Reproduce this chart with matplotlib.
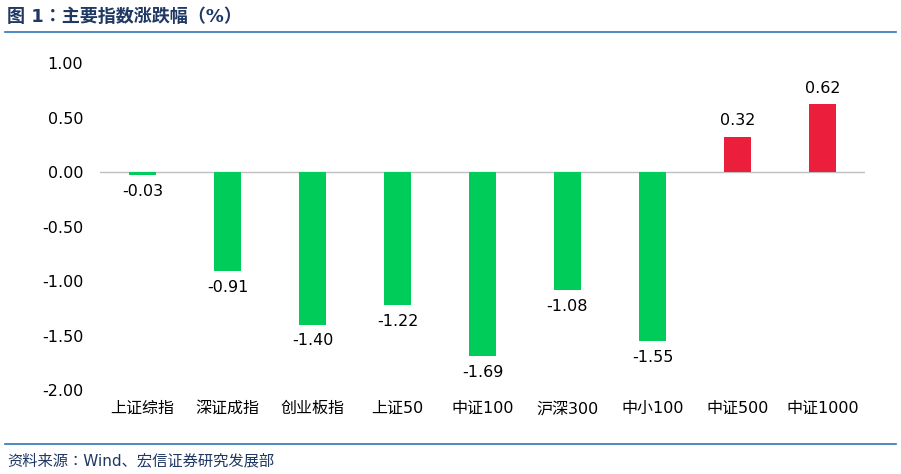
import matplotlib.pyplot as plt
from matplotlib.lines import Line2D

plt.rcParams['font.family'] = ['DejaVu Sans', 'Noto Sans CJK SC', 'Noto Sans CJK JP',
                               'Noto Sans CJK TC', 'Noto Sans CJK KR']
plt.rcParams['axes.unicode_minus'] = False

names = ['上证综指', '深证成指', '创业板指', '上证50', '中证100', '沪深300', '中小100', '中证500', '中证1000']
changes = [-0.03, -0.91, -1.40, -1.22, -1.69, -1.08, -1.55, 0.32, 0.62]

green = '#00CC5A'
red = '#EB1E3C'
colors = [red if v > 0 else green for v in changes]

fig = plt.figure(figsize=(9.01, 4.74), dpi=100)
ax = fig.add_axes([0.111, 0.177, 0.849, 0.690])

x = range(len(names))
ax.bar(x, changes, width=0.32, color=colors, zorder=2)
for i, v in enumerate(changes):
    if v > 0:
        ax.text(i, v + 0.08, f'{v:.2f}', ha='center', va='bottom', fontsize=11.5)
    else:
        ax.text(i, v - 0.08, f'{v:.2f}', ha='center', va='top', fontsize=11.5)

ax.set_xlim(-0.5, len(names) - 0.5)
ax.set_ylim(-2.0, 1.0)
ticks = [1.0, 0.5, 0.0, -0.5, -1.0, -1.5, -2.0]
ax.set_yticks(ticks)
ax.set_yticklabels([f'{t:.2f}' for t in ticks], fontsize=11.5)
ax.set_xticks(list(x))
ax.set_xticklabels(names, fontsize=11.5)
ax.tick_params(length=0, pad=12)
ax.tick_params(axis='x', pad=8)
for s in ax.spines.values():
    s.set_visible(False)
ax.axhline(0, color='#BFBFBF', lw=1, zorder=1)

fig.text(0.008, 0.965, '图 1：主要指数涨跌幅（%）', fontsize=13, fontweight='bold',
         color='#1F3864', va='center')
fig.add_artist(Line2D([0.005, 0.995], [0.932, 0.932], color='#2E75B6', lw=1.2))
fig.add_artist(Line2D([0.005, 0.995], [0.063, 0.063], color='#2E75B6', lw=1.2))
fig.text(0.008, 0.028, '资料来源：Wind、宏信证券研究发展部', fontsize=11, color='#1F3864', va='center')

fig.savefig('out.png', dpi=100)
